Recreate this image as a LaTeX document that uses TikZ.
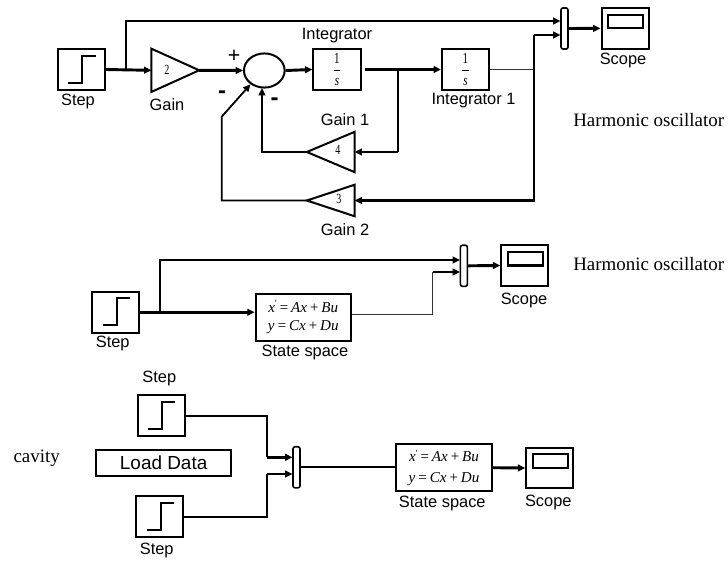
\documentclass[tikz,border=0pt]{standalone}
\usepackage{fontspec}
\setmainfont{Liberation Sans}
\newfontfamily\tnr{Liberation Serif}
\newfontfamily\tnrn[FakeStretch=0.72]{Liberation Serif}
\usetikzlibrary{arrows.meta,shapes.geometric}
\newcommand{\labfont}{\fontsize{12.3}{14}\selectfont}
\newcommand{\primemark}{\raisebox{4pt}{\fontsize{7}{7}\selectfont\upshape\textquotesingle}}
\newcommand{\tightsp}{\spaceskip=1.6pt plus .2pt minus .2pt\relax}
\tikzset{
  x=.75pt,y=-.75pt,
  blockline/.style={draw=black,line width=1.5pt},
  blockbox/.style={blockline,rectangle,fill=white,inner sep=0pt,minimum width=35.4pt,minimum height=30.6pt},
  stepblock/.style={blockbox,path picture={\draw[line width=1.5pt,shift={(path picture bounding box.center)}]
      (-13.2,13)--(.8,13)--(.8,-14)--(14.3,-14);}},
  scopeblock/.style={blockbox,path picture={\draw[line width=1.6pt,shift={(path picture bounding box.center)}]
      (-17,-13.7) rectangle (18,0);}},
  muxblock/.style={blockline,rectangle,rounded corners=1.5pt,fill=white,inner sep=0pt,line width=1.2pt,minimum width=5.2pt,minimum height=30.8pt},
  intblock/.style={blockbox,align=center,font=\tnrn\fontsize{11.5}{12}\selectfont},
  stateblock/.style={blockline,rectangle,fill=white,inner sep=0pt,minimum width=71.4pt,minimum height=35pt,align=center,font=\tnr\itshape\fontsize{11.3}{13}\selectfont\tightsp},
  gainsize/.style={inner sep=0pt,minimum width=35.4pt},
  gainright/.style={gainsize,append after command={\pgfextra{\let\LN\tikzlastnode
      \draw[blockline,line join=miter] (\LN.north west)--(\LN.east)--(\LN.south west)--cycle;}}},
  gainleft/.style={gainsize,append after command={\pgfextra{\let\LN\tikzlastnode
      \draw[blockline,line join=miter] (\LN.north east)--(\LN.west)--(\LN.south east)--cycle;}}},
  sumblock/.style={blockline,ellipse,inner sep=0pt,minimum width=30.5pt,minimum height=25.6pt},
  lab/.style={font=\labfont,inner sep=0pt},
  rmlab/.style={font=\tnr\fontsize{14.2}{16}\selectfont,inner sep=0pt,anchor=west},
  digit/.style={font=\tnrn\fontsize{10.5}{12}\selectfont,inner sep=0pt},
  dashmark/.style={font=\bfseries\fontsize{18}{20}\selectfont,inner sep=0pt},
  wthick/.style={line width=2.2pt},
  wmid/.style={line width=1.35pt},
  wthin/.style={line width=1.1pt,draw=black!80},
  tip/.style={-{Triangle[length=5.5pt,width=5pt]}},
}
\begin{document}
\begin{tikzpicture}
\useasboundingbox (0,0) rectangle (728,561);
\fill[white] (0,0) rectangle (728,561);

% --- first diagram ---
\node[stepblock] (stepA) at (81.5,69.5) {};
\node[gainright,minimum height=32pt] (gainA) at (175.3,70.3) {};
\node[digit] (gainAt) at (167,70) {2};
\node[sumblock] (sumA) at (264.3,70.5) {};
\node[intblock] (intA) at (337,69.5) {1\\[-3.4pt]\rule[3pt]{5pt}{.8pt}\\[-4pt]\itshape s};
\node[intblock] (intB) at (465.5,69.5) {1\\[-3.4pt]\rule[3pt]{5pt}{.8pt}\\[-4pt]\itshape s};
\node[gainleft,minimum height=29.8pt] (gainB) at (330.7,152) {};
\node[digit] (gainBt) at (338,150) {4};
\node[gainleft,minimum height=23.2pt] (gainC) at (330.7,200.5) {};
\node[digit] (gainCt) at (339,199) {3};
\node[muxblock] (muxA) at (564.5,28.5) {};
\node[scopeblock] (scopeA) at (625.15,28.35) {};

\coordinate (b1) at (126,69.5);
\coordinate (b2) at (398.3,69.5);
\coordinate (b3) at (534,69.5);
\coordinate (maa) at (560.5,21);
\coordinate (mab) at (560.5,35);
\coordinate (g2c) at (221.7,116.7);
\coordinate (sumb) at (262,88);

\draw[wthick,tip] (stepA.east) -- (gainA.west);
\draw[wthick,tip] (b1) |- (maa);
\draw[wthick,tip] (gainA.east) -- (sumA.west);
\draw[wthick,tip] (sumA.east) -- (intA.west);
\draw[wthick,tip,shorten <=2.2pt] (intA.east) -- (intB.west);
\draw[wthin] (intB.east) -- (b3);
\draw[wmid] (b3) -- (b3 |- mab);
\draw[wthick,tip] (b3 |- mab) -- (mab);
\draw[wthick,tip] (b3) |- (gainC.east);
\draw[wmid] (b2) -- (b2 |- gainB.east);
\draw[wthick,tip] (b2 |- gainB.east) -- (gainB.east);
\draw[wthick,tip] (gainB.west) -| (sumb);
\draw[wmid,tip] (gainC.west) -| (g2c) -- (sumA.225);
\draw[wthick,tip] (muxA.east) -- (scopeA.west);

\node[lab] (l1) at (78,101) {Step};
\node[lab] (l2) at (167,104.5) {Gain};
\node[lab] (l3) at (337,35.5) {Integrator};
\node[lab] (l4) at (473.5,101) {Integrator 1};
\node[lab] (l5) at (345,119.5) {Gain 1};
\node[lab] (l6) at (345,229.5) {Gain 2};
\node[lab] (l7) at (623,60.5) {Scope};
\node[font=\fontsize{16}{18}\selectfont,inner sep=0pt] (plus) at (234,56) {+};
\node[dashmark] (minA) at (222,95) {-};
\node[dashmark] (minB) at (274.5,102) {-};
\node[rmlab] (t1) at (573,120) {Harmonic oscillator};

% --- second diagram ---
\node[stepblock] (stepB) at (115.85,312.2) {};
\node[stateblock] (stateB) at (303.3,317.2) {x\primemark{} = Ax + Bu\\[.6pt]y = Cx + Du};
\node[muxblock] (muxB) at (463.9,265.8) {};
\node[scopeblock] (scopeB) at (524.85,265.5) {};
\coordinate (b4) at (160,314.3);
\coordinate (mba) at (460,260);
\coordinate (mbb) at (460,272);
\coordinate (jb) at (432.7,272);

\draw[wthick,tip] (stepB.east) -- (stepB.east -| stateB.west);
\draw[wmid,tip] (b4) |- (mba);
\draw[wthin] (stateB.east |- b4) -| (jb);
\draw[wthick,tip] (jb) -- (mbb);
\draw[wthick,tip] (muxB.east) -- (scopeB.west);

\node[lab] (l8) at (112.7,343.5) {Step};
\node[lab] (l9) at (305,352.5) {State space};
\node[lab] (l10) at (524,300.5) {Scope};
\node[rmlab] (t2) at (573,264) {Harmonic oscillator};

% --- third diagram ---
\node[stepblock] (stepC) at (161.15,415.65) {};
\node[stepblock] (stepD) at (159.85,516.65) {};
\node[blockline,rectangle,inner sep=0pt,minimum width=101.5pt,minimum height=19.8pt,font=\fontsize{14.2}{16}\selectfont] (load) at (163.65,463) {Load Data};
\node[muxblock] (muxC) at (296.5,467.3) {};
\node[stateblock] (stateC) at (444,467.7) {x\primemark{} = Ax + Bu\\[2.5pt]y = Cx + Du};
\node[scopeblock] (scopeC) at (549.85,468) {};
\coordinate (jc) at (266.7,457.3);
\coordinate (jd) at (266.7,474);
\coordinate (mca) at (292.5,457.3);
\coordinate (mcb) at (292.5,474);

\draw[wmid] (stepC.east) -| (jc);
\draw[wthick,tip] (jc) -- (mca);
\draw[wmid] (stepD.east) -| (jd);
\draw[wthick,tip] (jd) -- (mcb);
\draw[wmid] (muxC.east) -- (muxC.east -| stateC.west);
\draw[wthick,tip] (stateC.east) -- (scopeC.west);

\node[lab] (l11) at (159.3,378) {Step};
\node[lab] (l12) at (156.7,550.5) {Step};
\node[lab] (l13) at (442.3,503) {State space};
\node[lab] (l14) at (548.3,502) {Scope};
\node[rmlab] (t3) at (13.3,458) {cavity};
\end{tikzpicture}
\end{document}
